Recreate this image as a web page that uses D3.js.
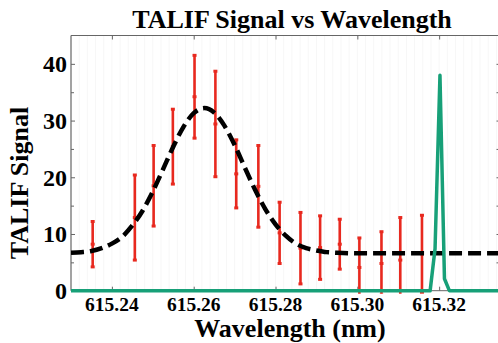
<!DOCTYPE html>
<html>
<head>
<meta charset="utf-8">
<script src="https://cdn.jsdelivr.net/npm/d3@7"></script>
<style>
  body { margin: 0; background: #fff; }
  svg { display: block; }
</style>
</head>
<body>
<svg id="chart" width="498" height="343"></svg>
<script>
// measured TALIF points (nm, signal, error half-width)
const wavelength = [615.2353, 615.2456, 615.2502, 615.2549, 615.2602, 615.2653, 615.2704, 615.2758,
  615.2810, 615.2861, 615.2909, 615.2957, 615.3005, 615.3059, 615.3105, 615.3158];
const signal = [8.2, 12.9, 18.5, 25.4, 34.2, 29.4, 20.6, 18.4, 10.2, 7.5, 7.6, 8.2, 4.1, 4.8, 5.4, 6.5];
const errBar = [4.0, 7.5, 7.1, 6.6, 7.3, 9.3, 6.0, 7.2, 5.4, 6.3, 5.6, 4.4, 5.2, 5.6, 7.5, 6.8];

// gaussian fit curve
const fitWl = [615.230, 615.2325, 615.235, 615.2375, 615.240, 615.2425, 615.245, 615.2475, 615.250,
  615.2525, 615.255, 615.2575, 615.260, 615.2626, 615.265, 615.2675, 615.270, 615.2725, 615.275,
  615.2775, 615.280, 615.2825, 615.285, 615.2875, 615.290, 615.2925, 615.295, 615.300, 615.335];
const fitSignal = [6.7, 6.8, 7.0, 7.5, 8.3, 9.5, 11.5, 14.1, 17.5, 21.4, 25.4, 28.9, 31.3, 32.2, 31.4,
  29.1, 25.7, 21.7, 17.8, 14.4, 11.7, 9.7, 8.3, 7.5, 7.1, 6.8, 6.7, 6.6, 6.6];

// laser line
const laserWl = [615.230, 615.316, 615.3178, 615.3190, 615.3202, 615.3213, 615.3225, 615.335];
const laserSignal = [0, 0, 0, 7.4, 38.0, 2.1, 0, 0];

const xTicks = [615.24, 615.26, 615.28, 615.30, 615.32];
const yTicks = [0, 10, 20, 30, 40];
const yMinor = [5, 15, 25, 35];

const FONT = "'Times New Roman', 'Liberation Serif', Tinos, Times, 'DejaVu Serif', serif";
const conf = { left: 71, right: 500.5, top: 35.5, bottom: 290.7 };
const svg = d3.select('#chart');

const x = d3.scaleLinear().domain([615.23, 615.335]).range([conf.left, conf.right]);
const y = d3.scaleLinear().domain([0, 45]).range([conf.bottom, conf.top]);

svg.append('defs').append('clipPath').attr('id', 'plotClip')
  .append('rect')
  .attr('x', conf.left).attr('y', conf.top)
  .attr('width', conf.right - conf.left).attr('height', conf.bottom - conf.top + 3);

// faint minor grid
svg.append('g').selectAll('line')
  .data(d3.range(615.232, 615.335, 0.002))
  .enter().append('line')
  .attr('x1', d => x(d)).attr('x2', d => x(d))
  .attr('y1', conf.top).attr('y2', conf.bottom)
  .attr('stroke', '#f7f7f7').attr('stroke-width', 1);

// frame lines
const axisColor = '#666';
svg.append('line').attr('x1', conf.left).attr('x2', conf.right).attr('y1', conf.top).attr('y2', conf.top)
  .attr('stroke', axisColor).attr('stroke-width', 1);
svg.append('line').attr('x1', conf.left).attr('x2', conf.left).attr('y1', conf.top).attr('y2', conf.bottom)
  .attr('stroke', axisColor).attr('stroke-width', 1.2);
svg.append('line').attr('x1', conf.left).attr('x2', conf.right).attr('y1', conf.bottom).attr('y2', conf.bottom)
  .attr('stroke', axisColor).attr('stroke-width', 1);

// y axis (ticks inward)
const yAxis = svg.append('g').attr('transform', `translate(${conf.left},0)`)
  .call(d3.axisRight(y).tickValues(yTicks).tickSize(4).tickFormat(''));
yAxis.select('.domain').remove();
yAxis.selectAll('line').attr('stroke', axisColor);
const yAxisMinor = svg.append('g').attr('transform', `translate(${conf.left},0)`)
  .call(d3.axisRight(y).tickValues(yMinor).tickSize(3).tickFormat(''));
yAxisMinor.select('.domain').remove();
yAxisMinor.selectAll('line').attr('stroke', axisColor);
// right side ticks
const yRight = svg.append('g').attr('transform', `translate(${conf.right},0)`)
  .call(d3.axisLeft(y).tickValues(yTicks.concat(yMinor)).tickSize(4).tickFormat(''));
yRight.select('.domain').remove();
yRight.selectAll('line').attr('stroke', axisColor);

svg.append('g').selectAll('text')
  .data(yTicks).enter().append('text')
  .attr('x', conf.left - 4)
  .attr('y', d => y(d) + 8.5)
  .attr('text-anchor', 'end')
  .attr('font-family', FONT).attr('font-weight', 'bold')
  .attr('font-size', 24)
  .text(d => d);

// x axis ticks (bottom up, top down)
const xAxis = svg.append('g').attr('transform', `translate(0,${conf.bottom})`)
  .call(d3.axisTop(x).tickValues(xTicks).tickSize(4).tickFormat(''));
xAxis.select('.domain').remove();
xAxis.selectAll('line').attr('stroke', axisColor);
const xTop = svg.append('g').attr('transform', `translate(0,${conf.top})`)
  .call(d3.axisBottom(x).tickValues(xTicks).tickSize(4).tickFormat(''));
xTop.select('.domain').remove();
xTop.selectAll('line').attr('stroke', axisColor);

svg.append('g').selectAll('text')
  .data(xTicks).enter().append('text')
  .attr('x', d => x(d))
  .attr('y', 310.5)
  .attr('text-anchor', 'middle')
  .attr('font-family', FONT).attr('font-weight', 'bold')
  .attr('font-size', 19.5)
  .text(d => d.toFixed(2));

const plot = svg.append('g').attr('clip-path', 'url(#plotClip)');

// error bars
const red = '#e8291f';
const pts = wavelength.map((w, i) => ({ w: w, v: signal[i], e: errBar[i] }));
const bars = plot.append('g').selectAll('g').data(pts).enter().append('g');
bars.append('line')
  .attr('x1', d => x(d.w)).attr('x2', d => x(d.w))
  .attr('y1', d => y(d.v + d.e)).attr('y2', d => y(d.v - d.e))
  .attr('stroke', red).attr('stroke-width', 2.6);
bars.append('rect')
  .attr('x', d => x(d.w) - 2).attr('y', d => y(d.v + d.e) - 1.5)
  .attr('width', 4).attr('height', 3).attr('fill', red);
bars.append('rect')
  .attr('x', d => x(d.w) - 2).attr('y', d => y(d.v - d.e) - 1.5)
  .attr('width', 4).attr('height', 3).attr('fill', red);
bars.append('rect')
  .attr('x', d => x(d.w) - 2).attr('y', d => y(d.v) - 1.5)
  .attr('width', 4).attr('height', 3).attr('fill', red);

// fit curve
const fitLine = d3.line()
  .x((d, i) => x(fitWl[i]))
  .y(d => y(d))
  .curve(d3.curveMonotoneX);
plot.append('path')
  .datum(fitSignal)
  .attr('d', fitLine)
  .attr('fill', 'none')
  .attr('stroke', '#000')
  .attr('stroke-width', 4.5)
  .attr('stroke-dasharray', '13,6');

// laser line
const laserLine = d3.line()
  .x((d, i) => x(laserWl[i]))
  .y(d => y(d));
plot.append('path')
  .datum(laserSignal)
  .attr('d', laserLine)
  .attr('fill', 'none')
  .attr('stroke', '#17a078')
  .attr('stroke-width', 3.5)
  .attr('stroke-linejoin', 'round');

// titles
svg.append('text')
  .attr('x', 292).attr('y', 28)
  .attr('text-anchor', 'middle')
  .attr('font-family', FONT).attr('font-weight', 'bold')
  .attr('font-size', 26)
  .text('TALIF Signal vs Wavelength');

svg.append('text')
  .attr('x', 290).attr('y', 336.5)
  .attr('text-anchor', 'middle')
  .attr('font-family', FONT).attr('font-weight', 'bold')
  .attr('font-size', 26)
  .text('Wavelength (nm)');

svg.append('text')
  .attr('transform', 'translate(28,183) rotate(-90)')
  .attr('text-anchor', 'middle')
  .attr('font-family', FONT).attr('font-weight', 'bold')
  .attr('font-size', 26)
  .text('TALIF Signal');
</script>
</body>
</html>
